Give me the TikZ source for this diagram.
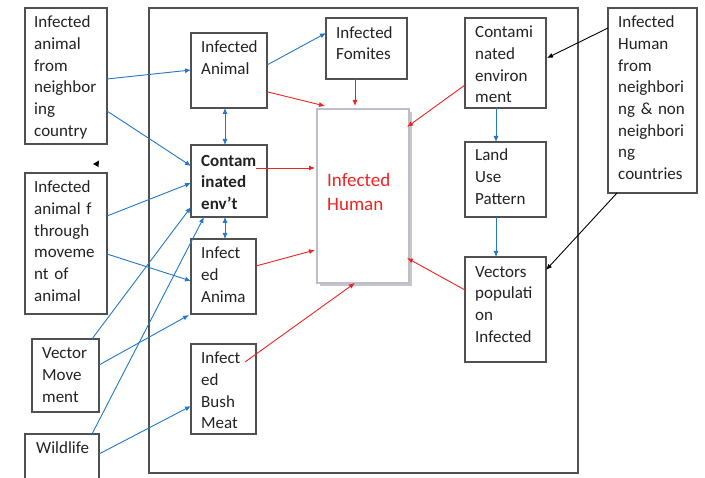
\documentclass[tikz,border=0pt]{standalone}
\usepackage{fontspec}
\setmainfont{Carlito}
\usetikzlibrary{arrows.meta,calc}
\definecolor{boxc}{RGB}{80,80,80}
\definecolor{txtc}{RGB}{35,35,35}
\definecolor{bluec}{RGB}{35,120,200}
\definecolor{redc}{RGB}{240,35,35}
\definecolor{ihc}{RGB}{190,188,205}
\newcommand{\fst}{\rule{0pt}{13.5pt}}
\begin{document}
\begin{tikzpicture}[x=1pt,y=-1pt,
  box/.style={draw=boxc, line width=1.1pt, inner sep=0pt, outer sep=0pt, anchor=north west},
  txt/.style={inner sep=0pt, anchor=north west, align=left, text width=95pt, text=txtc,
    font=\fontsize{17}{21.7}\selectfont},
  con/.style={line width=0.9pt, -{Latex[length=6pt,width=5pt]}},
  blu/.style={con, draw=bluec},
  rd/.style={con, draw=redc},
  blk/.style={con, draw=black},
  dbl/.style={line width=0.9pt, draw=bluec, {Latex[length=6pt,width=5pt]}-{Latex[length=6pt,width=5pt]}}
]
\useasboundingbox (0,0) rectangle (705,478);
\clip (0,0) rectangle (705,478);
\fill[white] (0,0) rectangle (705,478);

% outer frame
\node[box, minimum width=429pt, minimum height=465pt] (frame) at (149,8) {};

% left boxes
\node[box, minimum width=82pt, minimum height=136pt] (lb1) at (25,8) {};
\node[txt] (lb1t) at (34,14) {\fst Infected\\animal\\from\\neighbor\\ing\\country};
\node[box, minimum width=82pt, minimum height=141pt] (lb2) at (25,173) {};
\node[txt] (lb2t) at (34,179) {\fst Infected\\animal f\\through\\moveme\\nt of\\animal};
\node[box, minimum width=67pt, minimum height=73pt] (vm) at (32,339) {};
\node[txt] (vmt) at (42,345) {\fst Vector\\Move\\ment};
\node[box, minimum width=74pt, minimum height=70pt] (wl) at (25,434) {};
\node[txt] (wlt) at (36,440) {\fst Wildlife};

% stray arrowhead mark
\fill[black] (93,164) -- (99,160.5) -- (98.5,167) -- cycle;

% inner left column
\node[box, minimum width=76pt, minimum height=75pt] (ia) at (191,33) {};
\node[txt] (iat) at (201,39) {\fst Infected\\Animal};
\node[box, minimum width=76pt, minimum height=72pt] (ce) at (191,145) {};
\node[txt, font=\fontsize{17}{21.7}\selectfont\bfseries] (cet) at (201,152.5) {\fst Contam\\inated\\env’t};
\node[box, minimum width=65pt, minimum height=75pt] (ia2) at (191,239) {};
\node[txt] (ia2t) at (201,245) {\fst Infect\\ed\\Anima};
\node[box, minimum width=65pt, minimum height=90pt] (bm) at (191,344) {};
\node[txt] (bmt) at (201,350) {\fst Infect\\ed\\Bush\\Meat};

% middle
\node[box, minimum width=81pt, minimum height=61pt] (fo) at (326,18) {};
\node[txt] (fot) at (336,24.5) {\fst Infected\\Fomites};
\fill[gray!45] (320,112) rectangle (412,286);
\node[box, draw=ihc, line width=2pt, fill=white, minimum width=92pt, minimum height=174pt] (ih) at (317,109) {};
\node[txt, text=redc, font=\fontsize{19}{24}\selectfont] (iht) at (327,171) {\rule{0pt}{15pt}Infected\\Human};

% right column
\node[box, minimum width=81pt, minimum height=90pt] (cenv) at (465,18) {};
\node[txt] (cenvt) at (475,24) {\fst Contami\\nated\\environ\\ment};
\node[box, minimum width=81pt, minimum height=75pt] (lu) at (465,142) {};
\node[txt] (lut) at (475,147) {\fst Land\\Use\\Pattern};
\node[box, minimum width=81pt, minimum height=105pt] (vp) at (465,257) {};
\node[txt] (vpt) at (475,263.5) {\fst Vectors\\populati\\on\\Infected};
\node[box, minimum width=89pt, minimum height=185pt] (rb) at (608,8) {};
\node[txt] (rbt) at (618,14) {\fst Infected\\Human\\from\\neighbori\\ng \& non\\neighbori\\ng\\countries};

% blue connectors
\draw[blu] ($(lb1.north east)+(0,71)$) -- ($(ia.north west)+(0,37)$);
\draw[blu] ($(lb1.north east)+(0,103)$) -- ($(ce.north west)+(0,21)$);
\draw[blu] ($(ia.north east)+(0,32)$) -- ($(fo.north west)+(0,15)$);
\draw[dbl] ($(ia.south west)+(34,0)$) -- ($(ce.north west)+(34,0)$);
\draw[dbl] ($(ce.south west)+(34,0)$) -- ($(ia2.north west)+(34,0)$);
\draw[blu] ($(lb2.north east)+(0,43)$) -- ($(ce.north west)+(0,38)$);
\draw[blu] ($(lb2.north east)+(0,81)$) -- ($(ia2.north west)+(0,42)$);
\draw[blu] ($(vm.north east)+(-7,0)$) -- ($(ce.north west)+(0,62)$);
\draw[blu] ($(vm.north east)+(0,26)$) -- ($(ia2.south west)+(-2,1)$);
\draw[blu] ($(wl.north east)+(-7,0)$) -- ($(ce.south west)+(13,0)$);
\draw[blu] ($(wl.north east)+(0,20)$) -- ($(bm.north west)+(0,62)$);
\draw[blu] ($(cenv.south west)+(31,0)$) -- ($(lu.north west)+(31,0)$);
\draw[blu] ($(lu.south west)+(31,0)$) -- ($(vp.north west)+(31,0)$);

% red connectors
\draw[rd] ($(ia.north east)+(1,59)$) -- ($(ih.north west)+(8,-3)$);
\draw[rd] ($(fo.south west)+(29,0)$) -- ($(ih.north west)+(38,-3)$);
\draw[rd] ($(ce.north west)+(65,23)$) -- ($(ih.north west)+(-2,59)$);
\draw[rd] ($(ia2.north east)+(0,27)$) -- ($(ih.north west)+(-2,141)$);
\draw[rd] ($(bm.north west)+(54,18)$) -- ($(ih.south west)+(38,0)$);
\draw[rd] ($(cenv.north west)+(0,67)$) -- ($(ih.north east)+(-2,18)$);
\draw[rd] ($(vp.north west)+(0,33)$) -- ($(ih.north east)+(-2,149)$);

% black connectors
\draw[blk] ($(rb.north west)+(0,20)$) -- ($(cenv.north east)+(1,40)$);
\draw[blk] ($(rb.south west)+(9,0)$) -- ($(vp.north east)+(0,13)$);
\end{tikzpicture}
\end{document}
